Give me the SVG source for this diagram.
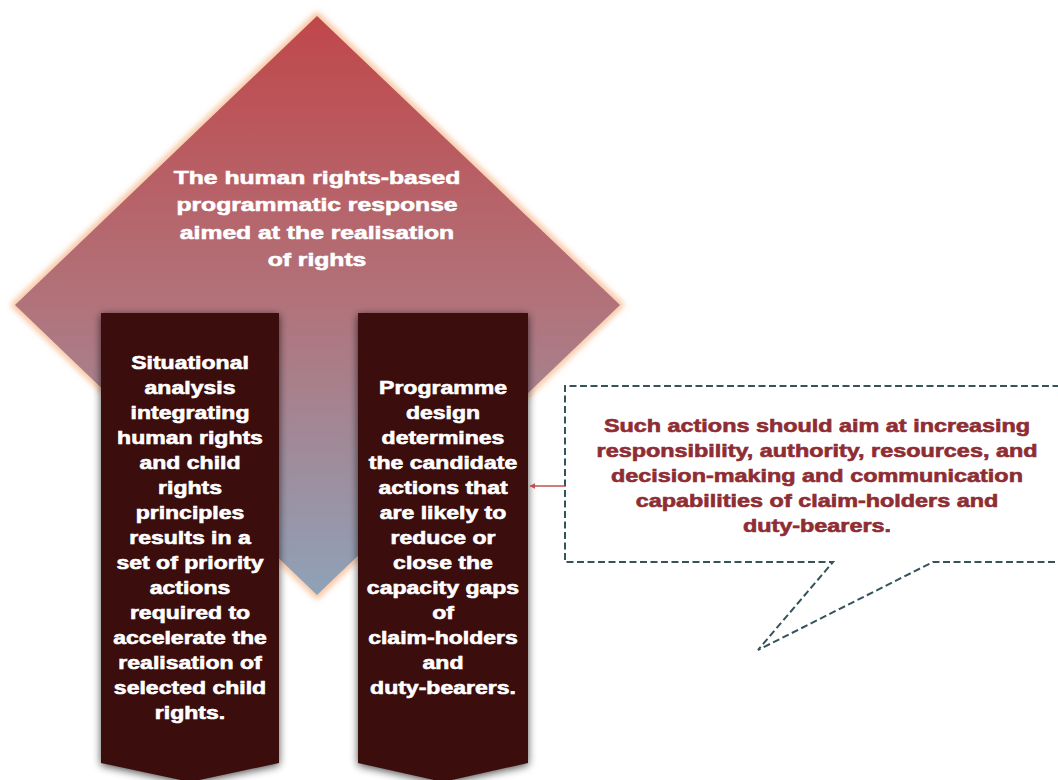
<svg xmlns="http://www.w3.org/2000/svg" width="1058" height="780" viewBox="0 0 1058 780">
  <defs>
    <linearGradient id="roofFill" x1="0" y1="16" x2="0" y2="595" gradientUnits="userSpaceOnUse">
      <stop offset="0" stop-color="#c0474a"/>
      <stop offset="0.5" stop-color="#b1737b"/>
      <stop offset="1" stop-color="#8fa2b8"/>
    </linearGradient>
    <filter id="glow" x="-10%" y="-10%" width="120%" height="120%">
      <feGaussianBlur stdDeviation="3"/>
    </filter>
    <filter id="shadow" x="-20%" y="-10%" width="140%" height="120%">
      <feGaussianBlur in="SourceAlpha" stdDeviation="4"/>
      <feOffset dx="0" dy="2" result="b"/>
      <feComponentTransfer><feFuncA type="linear" slope="0.7"/></feComponentTransfer>
      <feMerge><feMergeNode/><feMergeNode in="SourceGraphic"/></feMerge>
    </filter>
    <marker id="arrowHead" viewBox="0 0 10 10" refX="9" refY="5" markerWidth="6" markerHeight="6" orient="auto-start-reverse" markerUnits="userSpaceOnUse">
      <path d="M0,0 L10,5 L0,10 z" fill="#c0504d"/>
    </marker>
    <style>
      .wt { font-family: "Liberation Sans", Arial, sans-serif; font-weight: bold; fill: #ffffff; stroke: #ffffff; stroke-width: 0.6; text-anchor: middle; }
      .rt { font-family: "Liberation Sans", Arial, sans-serif; font-weight: bold; fill: #8e2d33; stroke: #8e2d33; stroke-width: 0.6; text-anchor: middle; }
      .pillar { fill: #3a0b0b; filter: url(#shadow); }
      .callout { fill: none; stroke: #34545c; stroke-width: 2; stroke-dasharray: 7 3.5; }
    </style>
  </defs>

  <rect width="1058" height="780" fill="#ffffff"/>

  <!-- roof diamond -->
  <g id="roof">
    <polygon points="317,16 620,305 317,595 15,305" fill="none" stroke="#f6b88c" stroke-width="6" filter="url(#glow)"/>
    <polygon points="317,16 620,305 317,595 15,305" fill="url(#roofFill)"/>
    <g transform="translate(317,0) scale(1.3,1)" font-size="19">
      <text class="wt" x="0" y="184">The human rights-based</text>
      <text class="wt" x="0" y="211">programmatic response</text>
      <text class="wt" x="0" y="239">aimed at the realisation</text>
      <text class="wt" x="0" y="266">of rights</text>
    </g>
  </g>

  <!-- left pillar -->
  <g id="pillar-analysis">
    <polygon class="pillar" points="101,313 279,313 279,763 190,782 101,763"/>
    <g transform="translate(190,0) scale(1.28,1)" font-size="18">
      <text class="wt" x="0" y="369">Situational</text>
      <text class="wt" x="0" y="394">analysis</text>
      <text class="wt" x="0" y="419">integrating</text>
      <text class="wt" x="0" y="444">human rights</text>
      <text class="wt" x="0" y="469">and child</text>
      <text class="wt" x="0" y="494">rights</text>
      <text class="wt" x="0" y="519">principles</text>
      <text class="wt" x="0" y="544">results in a</text>
      <text class="wt" x="0" y="569">set of priority</text>
      <text class="wt" x="0" y="594">actions</text>
      <text class="wt" x="0" y="619">required to</text>
      <text class="wt" x="0" y="644">accelerate the</text>
      <text class="wt" x="0" y="669">realisation of</text>
      <text class="wt" x="0" y="694">selected child</text>
      <text class="wt" x="0" y="719">rights.</text>
    </g>
  </g>

  <!-- right pillar -->
  <g id="pillar-design">
    <polygon class="pillar" points="358,313 528,313 528,763 443,782 358,763"/>
    <g transform="translate(443,0) scale(1.28,1)" font-size="18">
      <text class="wt" x="0" y="394">Programme</text>
      <text class="wt" x="0" y="419">design</text>
      <text class="wt" x="0" y="444">determines</text>
      <text class="wt" x="0" y="469">the candidate</text>
      <text class="wt" x="0" y="494">actions that</text>
      <text class="wt" x="0" y="519">are likely to</text>
      <text class="wt" x="0" y="544">reduce or</text>
      <text class="wt" x="0" y="569">close the</text>
      <text class="wt" x="0" y="594">capacity gaps</text>
      <text class="wt" x="0" y="619">of</text>
      <text class="wt" x="0" y="644">claim-holders</text>
      <text class="wt" x="0" y="669">and</text>
      <text class="wt" x="0" y="694">duty-bearers.</text>
    </g>
  </g>

  <!-- speech-bubble note -->
  <g id="note">
    <path class="callout" d="M1070,386 L565,386 L565,562 L833,562 L758,650 L933,562 L1070,562"/>
    <g transform="translate(817,0) scale(1.3,1)" font-size="18">
      <text class="rt" x="0" y="432">Such actions should aim at increasing</text>
      <text class="rt" x="0" y="457">responsibility, authority, resources, and</text>
      <text class="rt" x="0" y="482">decision-making and communication</text>
      <text class="rt" x="0" y="507">capabilities of claim-holders and</text>
      <text class="rt" x="0" y="532">duty-bearers.</text>
    </g>
  </g>

  <!-- connectors -->
  <g id="connectors">
    <line x1="565" y1="486" x2="530" y2="486" stroke="#c0504d" stroke-width="1.6" marker-end="url(#arrowHead)"/>
  </g>
</svg>
